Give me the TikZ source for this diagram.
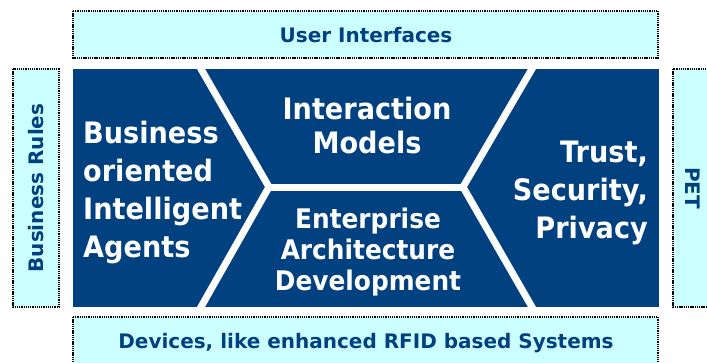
\documentclass[tikz,border=0pt]{standalone}
\usepackage{fontspec}
\setmainfont{DejaVu Sans}
\newfontfamily\bigfont{DejaVu Sans}[FakeStretch=0.92]
\definecolor{navy}{RGB}{2,65,128}
\definecolor{paleblue}{RGB}{204,255,255}
\begin{document}
\begin{tikzpicture}[x=1pt,y=-1pt,
  sidebox/.style={draw=black,fill=paleblue,line width=1.3pt,dash pattern=on 1.3pt off 0.9pt},
  boxtext/.style={text=navy,font=\fontsize{20}{24}\selectfont\bfseries,inner sep=0pt},
  bigtext/.style={text=white,font=\bigfont\fontsize{29.5}{38}\selectfont\bfseries,inner sep=0pt},
  divider/.style={draw=white,line width=7pt,line join=miter}]
\useasboundingbox (0,0) rectangle (707,362);
\clip (0,0) rectangle (707,362);
% side boxes
\draw[sidebox] (73,11) rectangle (658,58);
\draw[sidebox] (13,69) rectangle (59,307);
\draw[sidebox] (673,69) rectangle (720,307);
\draw[sidebox] (73,317) rectangle (658,375);
% central block
\fill[navy] (73,69) rectangle (659,307);
\begin{scope}
\clip (73,69) rectangle (659,307);
\coordinate (lt) at (197,62);
\coordinate (lv) at (269,187);
\coordinate (lb) at (197,314);
\coordinate (rt) at (536,62);
\coordinate (rv) at (463,187);
\coordinate (rb) at (536,314);
\draw[divider] (lt) -- (lv) -- (lb);
\draw[divider] (rt) -- (rv) -- (rb);
\draw[divider] (lv) -- (rv);
\end{scope}
% texts
\node[boxtext,anchor=base] (ui) at (366,42) {User Interfaces};
\node[boxtext,anchor=base] (dev) at (366,348) {Devices, like enhanced RFID based Systems};
\node[boxtext,rotate=90] (br) at (36,188) {Business Rules};
\node[boxtext,rotate=-90] (pet) at (693,188) {PET};
\node[bigtext,anchor=base west,align=left] (agents) at (83,257) {Business\\oriented\\Intelligent\\Agents};
\node[bigtext,anchor=base,align=center,font=\bigfont\fontsize{29.5}{34}\selectfont\bfseries] (im) at (367,153) {Interaction\\Models};
\node[bigtext,anchor=base,align=center,font=\bigfont\fontsize{27}{31}\selectfont\bfseries] (ead) at (368,290) {Enterprise\\Architecture\\Development};
\node[bigtext,anchor=base east,align=right] (tsp) at (648,238) {Trust,\\Security,\\Privacy};
\end{tikzpicture}
\end{document}
